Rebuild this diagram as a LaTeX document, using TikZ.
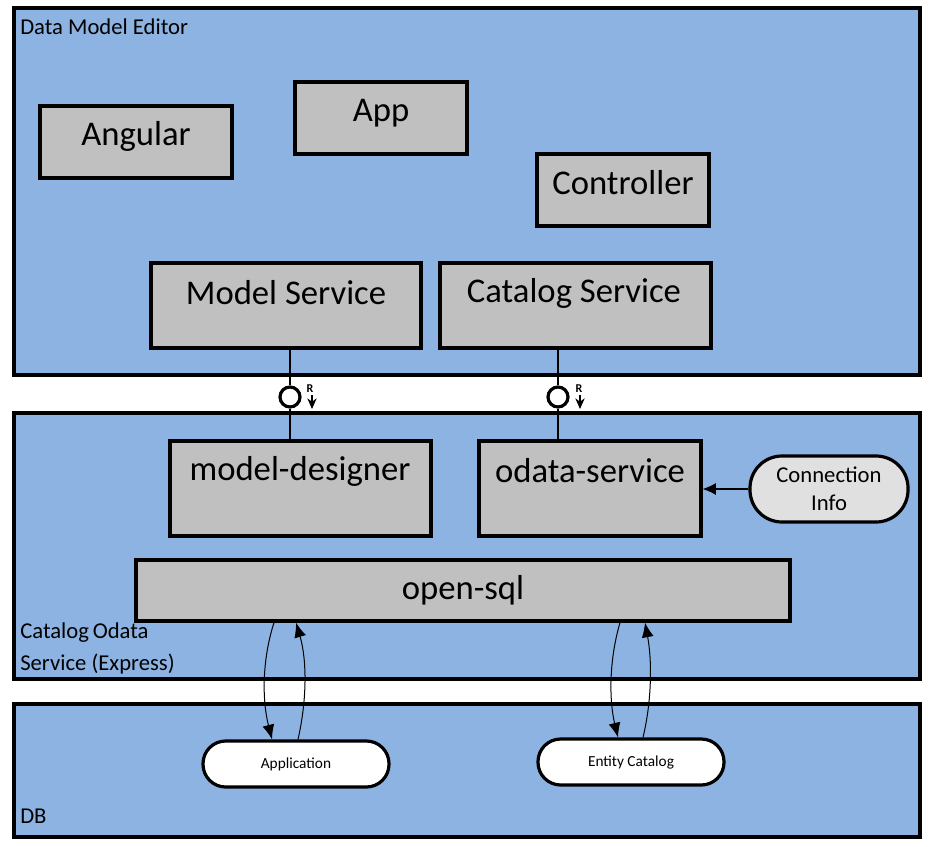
\documentclass[tikz,border=0pt]{standalone}
\usepackage{fontspec}
\setmainfont{Carlito}
\usetikzlibrary{fit,arrows.meta}
\definecolor{bandblue}{HTML}{8DB3E2}
\definecolor{boxgrey}{HTML}{C0C0C0}
\definecolor{infogrey}{HTML}{E0E0E0}
\tikzset{
  band/.style={draw=black, line width=2.4pt, fill=bandblue, inner sep=0pt},
  gbox/.style={draw=black, line width=2.4pt, fill=boxgrey, inner sep=0pt},
  pill/.style={draw=black, line width=2.4pt, rounded corners=17pt, inner sep=0pt},
  bigtxt/.style={font=\fontsize{26}{30}\selectfont, inner sep=0pt},
  bandtxt/.style={font=\fontsize{17}{21}\selectfont, inner sep=0pt, anchor=north west, align=left},
  smalltxt/.style={font=\fontsize{11.5}{14}\selectfont, inner sep=0pt},
  conn/.style={line width=0.8pt},
  flow/.style={line width=0.75pt, -{Latex[length=11pt,width=9pt]}},
  rlabel/.style={font=\bfseries\fontsize{9}{10}\selectfont, inner sep=0pt},
  iface/.style={circle, draw=black, line width=2.4pt, minimum size=20*0.75pt, inner sep=0pt},
}
\begin{document}
\begin{tikzpicture}[x=0.75pt,y=-0.75pt]
\useasboundingbox (0,0) rectangle (931,846);
% bands
\node[band, fit={(14,8) (920,375)}] (dme) {};
\node[band, fit={(14,413) (920,679)}] (cos) {};
\node[band, fit={(14,704) (920,837)}] (db) {};
\node[bandtxt] (dmet) at (20,18) {Data Model Editor};
\node[bandtxt] (cost) at (20,622) {Catalog\,Odata\\[3pt]Service (Express)};
\node[bandtxt] (dbt) at (20,809) {DB};
% grey boxes
\node[gbox, fit={(40,106) (232,178)}] (ang) {};
\node[bigtxt] (angt) at (136,136) {Angular};
\node[gbox, fit={(295,82) (467,154)}] (app) {};
\node[bigtxt] (appt) at (381,113) {App};
\node[gbox, fit={(537,154) (709,226)}] (ctl) {};
\node[bigtxt] (ctlt) at (623,183) {Controller};
\node[gbox, fit={(151,263) (421,348)}] (ms) {};
\node[bigtxt] (mst) at (286,293) {Model Service};
\node[gbox, fit={(440,263) (711,348)}] (cs) {};
\node[bigtxt] (cst) at (574,293) {Catalog Service};
\node[gbox, fit={(170,441) (431,536)}] (md) {};
\node[bigtxt] (mdt) at (300,471) {model-designer};
\node[gbox, fit={(479,441) (701,536)}] (os) {};
\node[bigtxt] (ost) at (590,471) {odata-service};
\node[gbox, fit={(136,560) (790,621)}] (sql) {};
\node[bigtxt] (sqlt) at (463,590) {open-sql};
% pills
\node[pill, fill=infogrey, rounded corners=24pt, fit={(750,456) (908,522)}] (ci) {};
\node[font=\fontsize{17}{21}\selectfont, align=center, inner sep=0pt] (cit) at (829,489) {Connection\\[0pt]Info};
\node[pill, fill=white, fit={(203,741) (389,787)}] (appl) {};
\node[smalltxt] (applt) at (296,764) {Application};
\node[pill, fill=white, fit={(538,739) (724,785)}] (ent) {};
\node[smalltxt] (entt) at (631,762) {Entity Catalog};
% interfaces
\node[iface] (c1) at (290,397) {};
\node[iface] (c2) at (558,397) {};
\draw[conn] (290,0 |- ms.south) -- (c1.north);
\draw[conn] (c1.south) -- (290,0 |- md.north);
\draw[conn] (558,0 |- cs.south) -- (c2.north);
\draw[conn] (c2.south) -- (558,0 |- os.north);
\node[rlabel] (r1) at (310,389) {R};
\node[rlabel] (r2) at (579,389) {R};
\coordinate (a1s) at (312,395);
\coordinate (a1e) at (312,409);
\coordinate (a2s) at (580,395);
\coordinate (a2e) at (580,409);
\draw[line width=0.9pt, -{Stealth[length=8pt,width=7pt]}] (a1s) -- (a1e);
\draw[line width=0.9pt, -{Stealth[length=8pt,width=7pt]}] (a2s) -- (a2e);
% connection info arrow
\draw[line width=0.8pt, -{Latex[length=10pt,width=9pt]}] (ci.west) -- (os.east |- ci.west);
% curved flows
\draw[flow] (274,0 |- sql.south) .. controls (262,660) and (262,700) .. (272,0 |- appl.north);
\draw[flow] (298,0 |- appl.north) .. controls (307,700) and (307,660) .. (296,0 |- sql.south);
\draw[flow] (620,0 |- sql.south) .. controls (609,660) and (609,700) .. (618,0 |- ent.north);
\draw[flow] (643,0 |- ent.north) .. controls (652,700) and (652,660) .. (645,0 |- sql.south);
\end{tikzpicture}
\end{document}
